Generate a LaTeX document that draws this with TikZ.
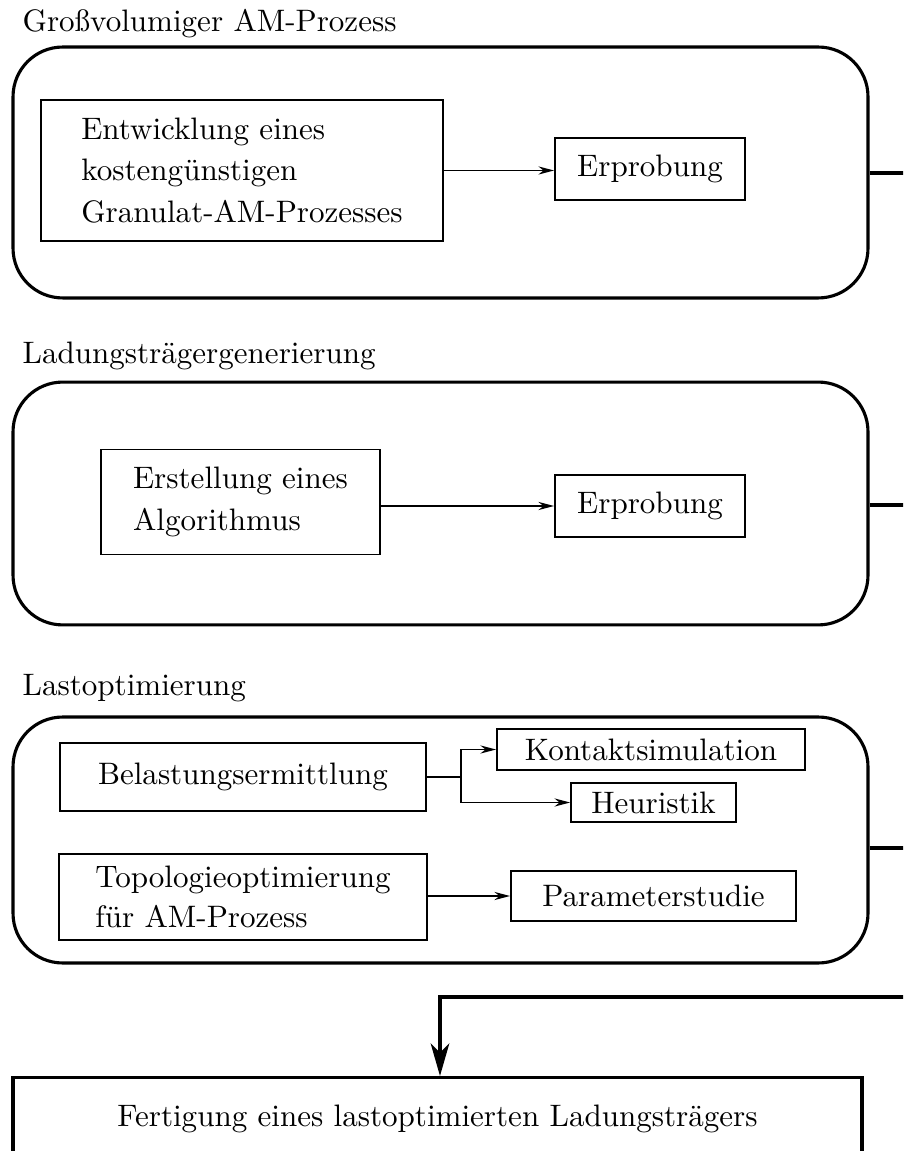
\documentclass[tikz,border=0pt]{standalone}
\usepackage{tikz}
\usetikzlibrary{positioning, arrows.meta}

\begin{document}
\begin{tikzpicture}[
  x=0.322pt, y=-0.322pt,
  phase/.style={draw, rounded corners=16pt, line width=1pt,
                minimum width=275.3pt, inner sep=0pt},
  task/.style={draw, line width=0.6pt, align=left, inner sep=3pt},
  title/.style={anchor=base west, inner sep=0pt},
  flow/.style={-{Stealth[length=5pt, width=2.6pt, inset=1.6pt]}, line width=0.6pt},
  link/.style={line width=1pt},
  bigflow/.style={-{Stealth[length=10.5pt, width=6pt, inset=3pt]}, line width=1pt},
]
\clip (0,0) rectangle (903,1151);
% phase 1: large volume AM process
\node[title] (t1) at (22,32) {Großvolumiger AM-Prozess};
\node[phase, minimum height=80.8pt] (p1) at (440.5,172.5) {};
\node[task, minimum width=129.4pt, minimum height=45.4pt] (dev) at (242,170.5)
  {Entwicklung eines\\[1.3pt] kostengünstigen\\[1.3pt] Granulat-AM-Prozesses};
\node[task, align=center, minimum width=61.2pt, minimum height=20pt] (test1) at (650,169) {Erprobung};
% phase 2: carrier generation
\node[title] (t2) at (22,364) {Ladungsträgergenerierung};
\node[phase, minimum height=78.2pt] (p2) at (440.5,503.5) {};
\node[task, minimum width=89.8pt, minimum height=33.8pt] (algo) at (240.5,502)
  {Erstellung eines\\[1.3pt] Algorithmus};
\node[task, align=center, minimum width=61.2pt, minimum height=20pt] (test2) at (650,506) {Erprobung};
% phase 3: load optimisation
\node[title] (t3) at (22,695) {Lastoptimierung};
\node[phase, minimum height=79.2pt] (p3) at (440.5,840) {};
\node[task, align=center, minimum width=117.9pt, minimum height=21.9pt] (load) at (243,777) {Belastungsermittlung};
\node[task, align=center, minimum width=99.2pt, minimum height=13.2pt, inner sep=1pt] (contact) at (651,749.5) {Kontaktsimulation};
\node[task, align=center, minimum width=53.1pt, minimum height=12.6pt, inner sep=1pt] (heur) at (653.5,802.5) {Heuristik};
\node[task, minimum width=118.5pt, minimum height=27.7pt] (topo) at (243,897)
  {Topologieoptimierung\\[1pt] für AM-Prozess};
\node[task, align=center, minimum width=91.8pt, minimum height=16.1pt] (param) at (653.5,896) {Parameterstudie};
% result
\node[draw, line width=1pt, minimum width=273.4pt, minimum height=26.4pt, anchor=north]
  (made) at (437.5,1076) {Fertigung eines lastoptimierten Ladungsträgers};
% arrows inside the phases
\draw[flow] (dev.east) -- (dev.east -| test1.west);
\draw[flow] (algo.east |- test2.west) -- (test2.west);
\draw[link, line width=0.6pt] (load.east) -- ++(34,0) coordinate (split);
\draw[flow] (split) |- (contact.west);
\draw[flow] (split) |- (heur.west);
\draw[flow] (topo.east |- param.west) -- (param.west);
% links to the right and back
\coordinate (r1) at (915,173);
\coordinate (r2) at (915,505);
\coordinate (r3) at (915,848);
\coordinate (back) at (915,997);
\draw[link] (p1.east |- r1) -- (r1);
\draw[link] (p2.east |- r2) -- (r2);
\draw[link] (p3.east |- r3) -- (r3);
\draw[bigflow] ([xshift=0pt]back) -| ([xshift=0.8pt]made.north);
\end{tikzpicture}
\end{document}
